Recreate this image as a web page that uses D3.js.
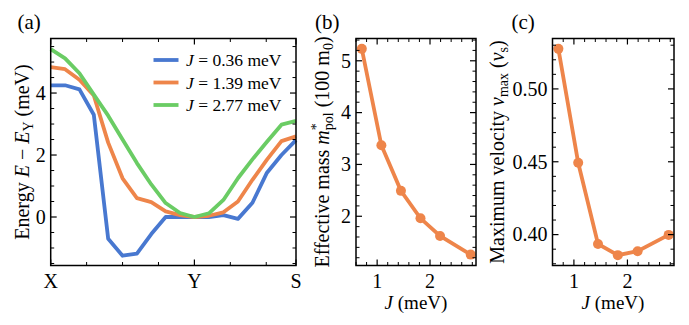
<!DOCTYPE html>
<html>
<head>
<meta charset="utf-8">
<script src="https://cdn.jsdelivr.net/npm/d3@7"></script>
<style>
  body { margin: 0; background: #fff; }
  svg { display: block; font-family: "Liberation Serif", "Times New Roman", serif; }
</style>
</head>
<body>
<div id="chart"></div>
<script>
/* DATA */
// k-path positions along X -> Y -> S (X-Y has length 1, Y-S length 1/sqrt2)
const kPath = [0, 0.1, 0.2, 0.3, 0.4, 0.5, 0.6, 0.7, 0.8, 0.9, 1.0,
  1.101, 1.202, 1.303, 1.404, 1.505, 1.606, 1.7071];
const kTicks = [0, 1, 1.7071];
const kTickLabels = ["X", "Y", "S"];
const kMinorTicks = [0.25, 0.5, 0.75, 1.25, 1.5];

const bandLow = [4.25, 4.25, 4.12, 3.3, -0.7, -1.25, -1.18, -0.55, 0.0, 0.0, 0.0,
  0.0, 0.06, -0.06, 0.46, 1.43, 2.0, 2.48];
const bandMid = [4.84, 4.77, 4.43, 3.92, 2.4, 1.25, 0.61, 0.48, 0.18, 0.06, 0.0,
  0.04, 0.15, 0.5, 1.2, 1.85, 2.45, 2.6];
const bandHigh = [5.42, 5.12, 4.64, 3.95, 3.27, 2.5, 1.74, 1.05, 0.45, 0.13, 0.0,
  0.12, 0.55, 1.25, 1.86, 2.43, 2.98, 3.1];
const bandJ = ["0.36", "1.39", "2.77"];

const couplingJ = [0.71, 1.08, 1.45, 1.82, 2.19, 2.77];
const effMass = [5.23, 3.37, 2.49, 1.96, 1.62, 1.26];
const maxVelocity = [0.5275, 0.4493, 0.3936, 0.3859, 0.3886, 0.3998];

/* LAYOUT */
const W = 689, H = 325;
const TOP = 38.5, BOTTOM = 265.5;
const COLORS = ["#4878d0", "#ee854a", "#6acc64"];
const FONT = 20;

const svg = d3.select("#chart").append("svg")
  .attr("width", W).attr("height", H);

/* HELPERS */
function frameAxes(x, y, opts) {
  const g = svg.append("g");
  const [x0, x1] = x.range();
  const [y0, y1] = y.range(); // y0 bottom, y1 top

  // ticks pointing inward on all four sides
  function vTicks(vals, len, w) {
    vals.forEach((v) => {
      const px = x(v);
      g.append("line").attr("x1", px).attr("x2", px).attr("y1", y0).attr("y2", y0 - len)
        .attr("stroke", "#000").attr("stroke-width", w);
      g.append("line").attr("x1", px).attr("x2", px).attr("y1", y1).attr("y2", y1 + len)
        .attr("stroke", "#000").attr("stroke-width", w);
    });
  }
  function hTicks(vals, len, w) {
    vals.forEach((v) => {
      const py = y(v);
      g.append("line").attr("y1", py).attr("y2", py).attr("x1", x0).attr("x2", x0 + len)
        .attr("stroke", "#000").attr("stroke-width", w);
      g.append("line").attr("y1", py).attr("y2", py).attr("x1", x1).attr("x2", x1 - len)
        .attr("stroke", "#000").attr("stroke-width", w);
    });
  }
  vTicks(opts.xMajor, 6, 1.2);
  vTicks(opts.xMinor, 3.5, 1);
  hTicks(opts.yMajor, 6, 1.2);
  hTicks(opts.yMinor, 3.5, 1);

  // tick labels
  opts.xMajor.forEach((v, i) => {
    g.append("text").attr("x", x(v)).attr("y", y0 + 22)
      .attr("text-anchor", "middle").attr("font-size", FONT)
      .text(opts.xLabels ? opts.xLabels[i] : v);
  });
  opts.yMajor.forEach((v) => {
    g.append("text").attr("x", x0 - 5).attr("y", y(v)).attr("dy", "0.34em")
      .attr("text-anchor", "end").attr("font-size", FONT)
      .text(opts.yFormat ? opts.yFormat(v) : v);
  });

  // frame
  g.append("rect").attr("x", x0).attr("y", y1)
    .attr("width", x1 - x0).attr("height", y0 - y1)
    .attr("fill", "none").attr("stroke", "#000").attr("stroke-width", 1.5);
  return g;
}

function minorRange(lo, hi, step, skip) {
  const out = [];
  for (let v = Math.ceil(lo / step) * step; v <= hi + 1e-9; v += step) {
    const r = Math.round(v / step) * step;
    if (!skip.some((s) => Math.abs(s - r) < 1e-6)) out.push(+r.toFixed(6));
  }
  return out;
}

function panelLabel(x, text) {
  svg.append("text").attr("x", x).attr("y", 29).attr("font-size", 21).text(text);
}

function xLabelJ(cx) {
  const t = svg.append("text").attr("x", cx).attr("y", 309)
    .attr("text-anchor", "middle").attr("font-size", 19);
  t.append("tspan").attr("font-style", "italic").text("J");
  t.append("tspan").text(" (meV)");
}

/* PANEL (a): band structure */
function drawBands() {
  const x = d3.scaleLinear().domain([0, 1.7071]).range([50.7, 296]);
  const y = d3.scaleLinear().domain([-1.565, 5.76]).range([BOTTOM, TOP]);
  const line = d3.line().x((d) => x(d[0])).y((d) => y(d[1]));

  [bandLow, bandMid, bandHigh].forEach((band, i) => {
    svg.append("path")
      .datum(kPath.map((k, j) => [k, band[j]]))
      .attr("d", line)
      .attr("fill", "none").attr("stroke", COLORS[i])
      .attr("stroke-width", 3.8).attr("stroke-linejoin", "round");
  });

  frameAxes(x, y, {
    xMajor: kTicks, xLabels: kTickLabels, xMinor: kMinorTicks,
    yMajor: [0, 2, 4], yMinor: minorRange(-1.5, 5.5, 0.5, [0, 2, 4]),
  });

  // legend
  bandJ.forEach((j, i) => {
    const ly = 60 + i * 22.5;
    svg.append("line").attr("x1", 153.5).attr("x2", 178.5).attr("y1", ly).attr("y2", ly)
      .attr("stroke", COLORS[i]).attr("stroke-width", 3.8);
    const t = svg.append("text").attr("x", 186).attr("y", ly + 6).attr("font-size", 17.5);
    t.append("tspan").attr("font-style", "italic").text("J");
    t.append("tspan").text(` = ${j} meV`);
  });

  // y label
  const t = svg.append("text")
    .attr("transform", `translate(29,152) rotate(-90)`)
    .attr("text-anchor", "middle").attr("font-size", FONT);
  t.append("tspan").text("Energy ");
  t.append("tspan").attr("font-style", "italic").text("E");
  t.append("tspan").text(" \u2212 ");
  t.append("tspan").attr("font-style", "italic").text("E");
  t.append("tspan").attr("font-size", 14).attr("dy", 4).text("Y");
  t.append("tspan").attr("dy", -4).text(" (meV)");

  panelLabel(17.5, "(a)");
}

/* PANEL (b): effective mass */
function drawMass() {
  const x = d3.scaleLinear().domain([0.6, 2.87]).range([356, 476]);
  const y = d3.scaleLinear().domain([1.05, 5.43]).range([BOTTOM, TOP]);
  const pts = couplingJ.map((j, i) => [j, effMass[i]]);

  svg.append("path").datum(pts)
    .attr("d", d3.line().x((d) => x(d[0])).y((d) => y(d[1])))
    .attr("fill", "none").attr("stroke", COLORS[1]).attr("stroke-width", 3.8);
  svg.append("g").selectAll("circle").data(pts).enter().append("circle")
    .attr("cx", (d) => x(d[0])).attr("cy", (d) => y(d[1])).attr("r", 5)
    .attr("fill", COLORS[1]);

  frameAxes(x, y, {
    xMajor: [1, 2], xMinor: minorRange(0.6, 2.87, 0.2, [1, 2]),
    yMajor: [2, 3, 4, 5], yMinor: minorRange(1.05, 5.43, 0.2, [2, 3, 4, 5]),
  });

  const t = svg.append("text")
    .attr("transform", `translate(329,152) rotate(-90)`)
    .attr("text-anchor", "middle").attr("font-size", FONT);
  t.append("tspan").text("Effective mass ");
  t.append("tspan").attr("font-style", "italic").text("m");
  t.append("tspan").attr("font-size", 14).attr("dy", -8).text("*");
  t.append("tspan").attr("font-size", 14).attr("dx", -7).attr("dy", 12).text("pol");
  t.append("tspan").attr("dy", -4).text(" (100 m");
  t.append("tspan").attr("font-size", 14).attr("dy", 4).text("0");
  t.append("tspan").attr("dy", -4).text(")");

  xLabelJ(416);
  panelLabel(315, "(b)");
}

/* PANEL (c): maximum velocity */
function drawVelocity() {
  const x = d3.scaleLinear().domain([0.6, 2.87]).range([552.5, 674]);
  const y = d3.scaleLinear().domain([0.3788, 0.5346]).range([BOTTOM, TOP]);
  const pts = couplingJ.map((j, i) => [j, maxVelocity[i]]);

  svg.append("path").datum(pts)
    .attr("d", d3.line().x((d) => x(d[0])).y((d) => y(d[1])))
    .attr("fill", "none").attr("stroke", COLORS[1]).attr("stroke-width", 3.8);
  svg.append("g").selectAll("circle").data(pts).enter().append("circle")
    .attr("cx", (d) => x(d[0])).attr("cy", (d) => y(d[1])).attr("r", 5)
    .attr("fill", COLORS[1]);

  frameAxes(x, y, {
    xMajor: [1, 2], xMinor: minorRange(0.6, 2.87, 0.2, [1, 2]),
    yMajor: [0.40, 0.45, 0.50], yMinor: minorRange(0.38, 0.534, 0.01, [0.40, 0.45, 0.50]),
    yFormat: d3.format(".2f"),
  });

  const t = svg.append("text")
    .attr("transform", `translate(504,152) rotate(-90)`)
    .attr("text-anchor", "middle").attr("font-size", FONT);
  t.append("tspan").text("Maximum velocity ");
  t.append("tspan").attr("font-style", "italic").text("v");
  t.append("tspan").attr("font-size", 14).attr("dy", 4).text("max");
  t.append("tspan").attr("dy", -4).text(" (");
  t.append("tspan").attr("font-style", "italic").text("v");
  t.append("tspan").attr("font-size", 14).attr("dy", 4).text("s");
  t.append("tspan").attr("dy", -4).text(")");

  xLabelJ(613);
  panelLabel(511.5, "(c)");
}

/* MAIN */
drawBands();
drawMass();
drawVelocity();
</script>
</body>
</html>
